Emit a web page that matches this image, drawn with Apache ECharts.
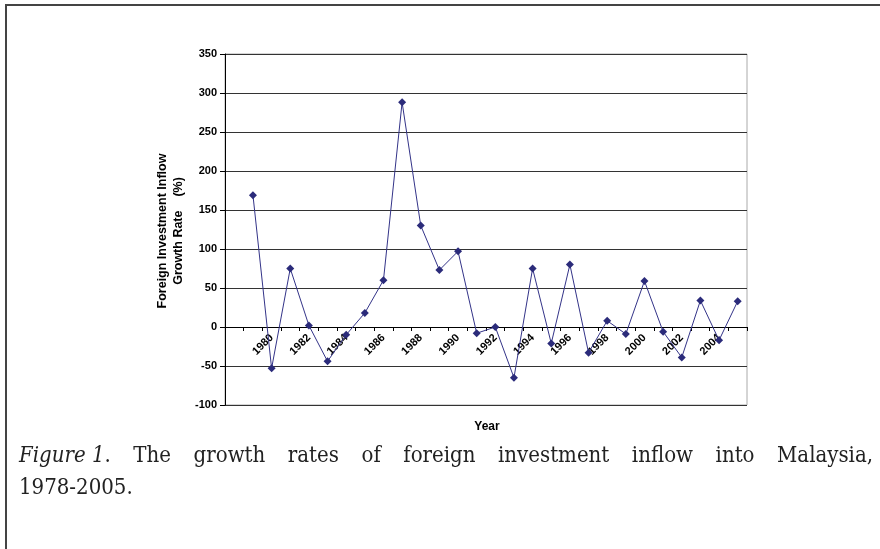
<!DOCTYPE html>
<html>
<head>
<meta charset="utf-8">
<script src="https://cdn.jsdelivr.net/npm/echarts@6/dist/echarts.min.js"></script>
<style>
html,body{margin:0;padding:0;background:#fff;}
#c{width:880px;height:549px;}
</style>
</head>
<body>
<div id="c"></div>
<script>
// Categories (1978 has no growth value)
var years = ['1978','1979','1980','1981','1982','1983','1984','1985','1986','1987','1988','1989','1990','1991','1992','1993','1994','1995','1996','1997','1998','1999','2000','2001','2002','2003','2004','2005'];
// Foreign investment inflow growth rate (%)
var growthRate = [null,169,-53,75,2,-44,-10,18,60,288,130,73,97,-8,0,-65,75,-21,80,-33,8,-9,59,-6,-39,34,-17,33];
// Y axis scale
var yMin = -100, yMax = 350, yStep = 50;

var W = 880, H = 549;
var gridTop = 54, gridBottom = 144, gridLeft = 225, gridRight = 133;
var plotH = H - gridTop - gridBottom;
// put the category axis on the zero line
var zeroOffset = -((0 - yMin) / (yMax - yMin)) * plotH;

var serif = '"DejaVu Serif Condensed", "Liberation Serif", serif';
var capSize = 22;
var capFont = capSize + 'px ' + serif;
var capItalic = 'italic ' + capSize + 'px ' + serif;
// caption line 1 tokens (justified between x 19 and 873)
var captionTokens = [
  {t:'Figure 1', it:true, tail:'.'},
  {t:'The'},{t:'growth'},{t:'rates'},{t:'of'},{t:'foreign'},
  {t:'investment'},{t:'inflow'},{t:'into'},{t:'Malaysia,'}
];
var capLeft = 19, capRight = 873;

var mctx = document.createElement('canvas').getContext('2d');
function measure(font, s){ mctx.font = font; return mctx.measureText(s).width; }
var total = 0;
captionTokens.forEach(function(tk){
  tk.w = measure(tk.it ? capItalic : capFont, tk.t) + (tk.tail ? measure(capFont, tk.tail) : 0);
  total += tk.w;
});
var gap = (capRight - capLeft - total) / (captionTokens.length - 1);

var chart = echarts.init(document.getElementById('c'), null, {renderer:'canvas'});
var graphics = [
  {type:'line', shape:{x1:5,y1:5,x2:880,y2:5}, style:{stroke:'#444',lineWidth:2}},
  {type:'line', shape:{x1:6,y1:5,x2:6,y2:549}, style:{stroke:'#444',lineWidth:2}},
  {type:'text', style:{text:'Year', x:487, y:427, font:'bold 12px Arial, "Liberation Sans"', fill:'#000', align:'center', verticalAlign:'middle'}},
  {type:'text', x:171, y:231, rotation:Math.PI/2, style:{text:'Foreign Investment Inflow\nGrowth Rate    (%)', x:0, y:0, font:'bold 12.5px Arial, "Liberation Sans"', fill:'#000', align:'center', verticalAlign:'middle', lineHeight:16}}
];
var cx = capLeft;
captionTokens.forEach(function(tk){
  if (tk.tail) {
    graphics.push({type:'text', style:{
      text:'{i|' + tk.t + '}{n|' + tk.tail + '}', x:cx, y:456, align:'left', verticalAlign:'middle',
      rich:{i:{font:capItalic, fill:'#222'}, n:{font:capFont, fill:'#222'}}
    }});
  } else {
    graphics.push({type:'text', style:{text:tk.t, x:cx, y:456, font:tk.it ? capItalic : capFont, fill:'#222', align:'left', verticalAlign:'middle'}});
  }
  cx += tk.w + gap;
});
graphics.push({type:'text', style:{text:'1978-2005.', x:capLeft, y:488, font:capFont, fill:'#222', align:'left', verticalAlign:'middle'}});

chart.setOption({
  animation:false,
  backgroundColor:'#fff',
  grid:{left:gridLeft, right:gridRight, top:gridTop, bottom:gridBottom, show:true, borderColor:'#aaa', borderWidth:1, backgroundColor:'transparent'},
  xAxis:{
    type:'category', data:years, boundaryGap:true,
    position:'bottom', offset:zeroOffset,
    axisLine:{onZero:false, lineStyle:{color:'#000', width:1}},
    axisTick:{show:true, interval:0, length:4, lineStyle:{color:'#000'}},
    axisLabel:{
      interval:function(i){return i>0 && i%2===0;},
      rotate:45, margin:9, color:'#000', fontWeight:'bold', fontSize:11, fontFamily:'Arial, "Liberation Sans"'
    },
    splitLine:{show:false}
  },
  yAxis:{
    type:'value', min:yMin, max:yMax, interval:yStep,
    axisLine:{show:true, lineStyle:{color:'#000', width:1}},
    axisTick:{show:true, length:5, lineStyle:{color:'#000'}},
    axisLabel:{margin:8, color:'#000', fontWeight:'bold', fontSize:11, fontFamily:'Arial, "Liberation Sans"'},
    splitLine:{show:true, lineStyle:{color:'#333', width:1}}
  },
  series:[{
    type:'line', data:growthRate, connectNulls:false,
    symbol:'diamond', symbolSize:8,
    lineStyle:{color:'#333388', width:1},
    itemStyle:{color:'#2b2b7a'}
  }],
  graphic:graphics
});
</script>
</body>
</html>
